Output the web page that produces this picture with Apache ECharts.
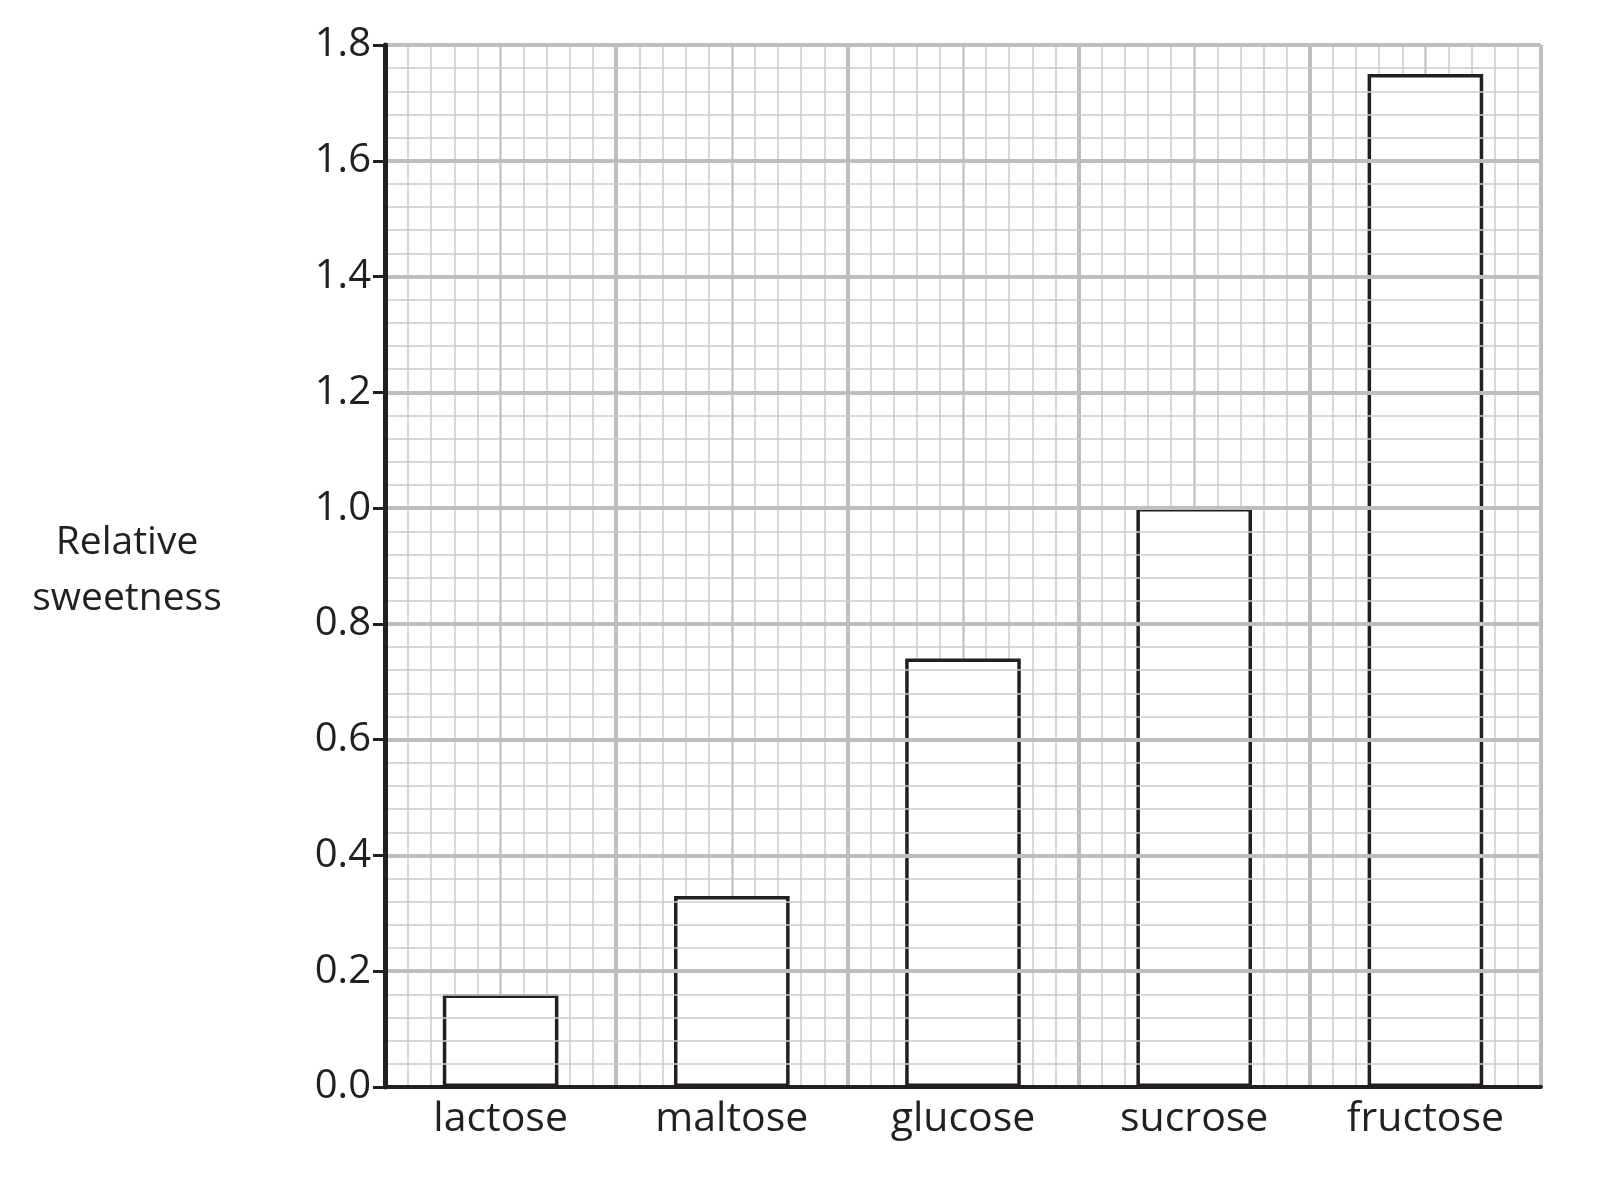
<!DOCTYPE html>
<html><head><meta charset="utf-8">
<script src="https://cdn.jsdelivr.net/npm/echarts@6/dist/echarts.min.js"></script>
<style>html,body{margin:0;padding:0;background:#fff}#c{width:1599px;height:1189px}</style>
</head><body><div id="c"></div>
<script>
const categories = ['lactose','maltose','glucose','sucrose','fructose'];
const sweetness = [0.16, 0.33, 0.74, 1.0, 1.75];
const yTicks = [0,0.2,0.4,0.6,0.8,1.0,1.2,1.4,1.6,1.8];

const chart = echarts.init(document.getElementById('c'));
const font = '"Open Sans", Lato, sans-serif';
chart.setOption({
  animation:false,
  grid:{left:385,right:58,top:45,bottom:102,containLabel:false},
  xAxis:[
    {type:'category',data:categories,position:'bottom',
     axisLine:{lineStyle:{color:'#231f20',width:4}},axisTick:{show:false},
     axisLabel:{color:'#231f20',fontSize:41,fontFamily:font,margin:12},
     splitLine:{show:false},z:5},
    {type:'value',min:0,max:5,interval:0.5,show:true,position:'top',
     axisLine:{show:false},axisTick:{show:false},axisLabel:{show:false},
     splitLine:{show:true,lineStyle:{color:'#c4c6c8',width:2.5}},
     minorSplitLine:{show:true,lineStyle:{color:'#c9cbcd',width:1.5}},minorTick:{show:false,splitNumber:5}},
    {type:'value',min:0,max:5,interval:1,show:true,position:'top',
     axisLine:{show:false},axisTick:{show:false},axisLabel:{show:false},
     splitLine:{show:true,lineStyle:{color:'#bcbec0',width:4}}}
  ],
  yAxis:[{type:'value',min:0,max:1.8,interval:0.2,
    axisLine:{show:true,lineStyle:{color:'#231f20',width:5}},
    axisTick:{show:true,length:12,lineStyle:{color:'#231f20',width:3}},
    axisLabel:{color:'#231f20',fontSize:40,fontFamily:font,margin:14,
      formatter:v=>{const t=yTicks.find(x=>Math.abs(x-v)<1e-6);return t===undefined?'':t.toFixed(1);}},
    splitLine:{show:true,lineStyle:{color:'#bcbec0',width:4}},
    minorSplitLine:{show:true,lineStyle:{color:'#c9cbcd',width:1.5}},minorTick:{show:false,splitNumber:5},
    z:5}],
  series:[{type:'bar',xAxisIndex:0,data:sweetness,barWidth:'50%',
    itemStyle:{color:'#fff',borderColor:'#231f20',borderWidth:3.5},z:3}],
  graphic:[{type:'text',x:127,y:515,style:{text:'Relative\nsweetness',fill:'#231f20',font:'39px '+font,textAlign:'center',lineHeight:56}}]
});
</script></body></html>
